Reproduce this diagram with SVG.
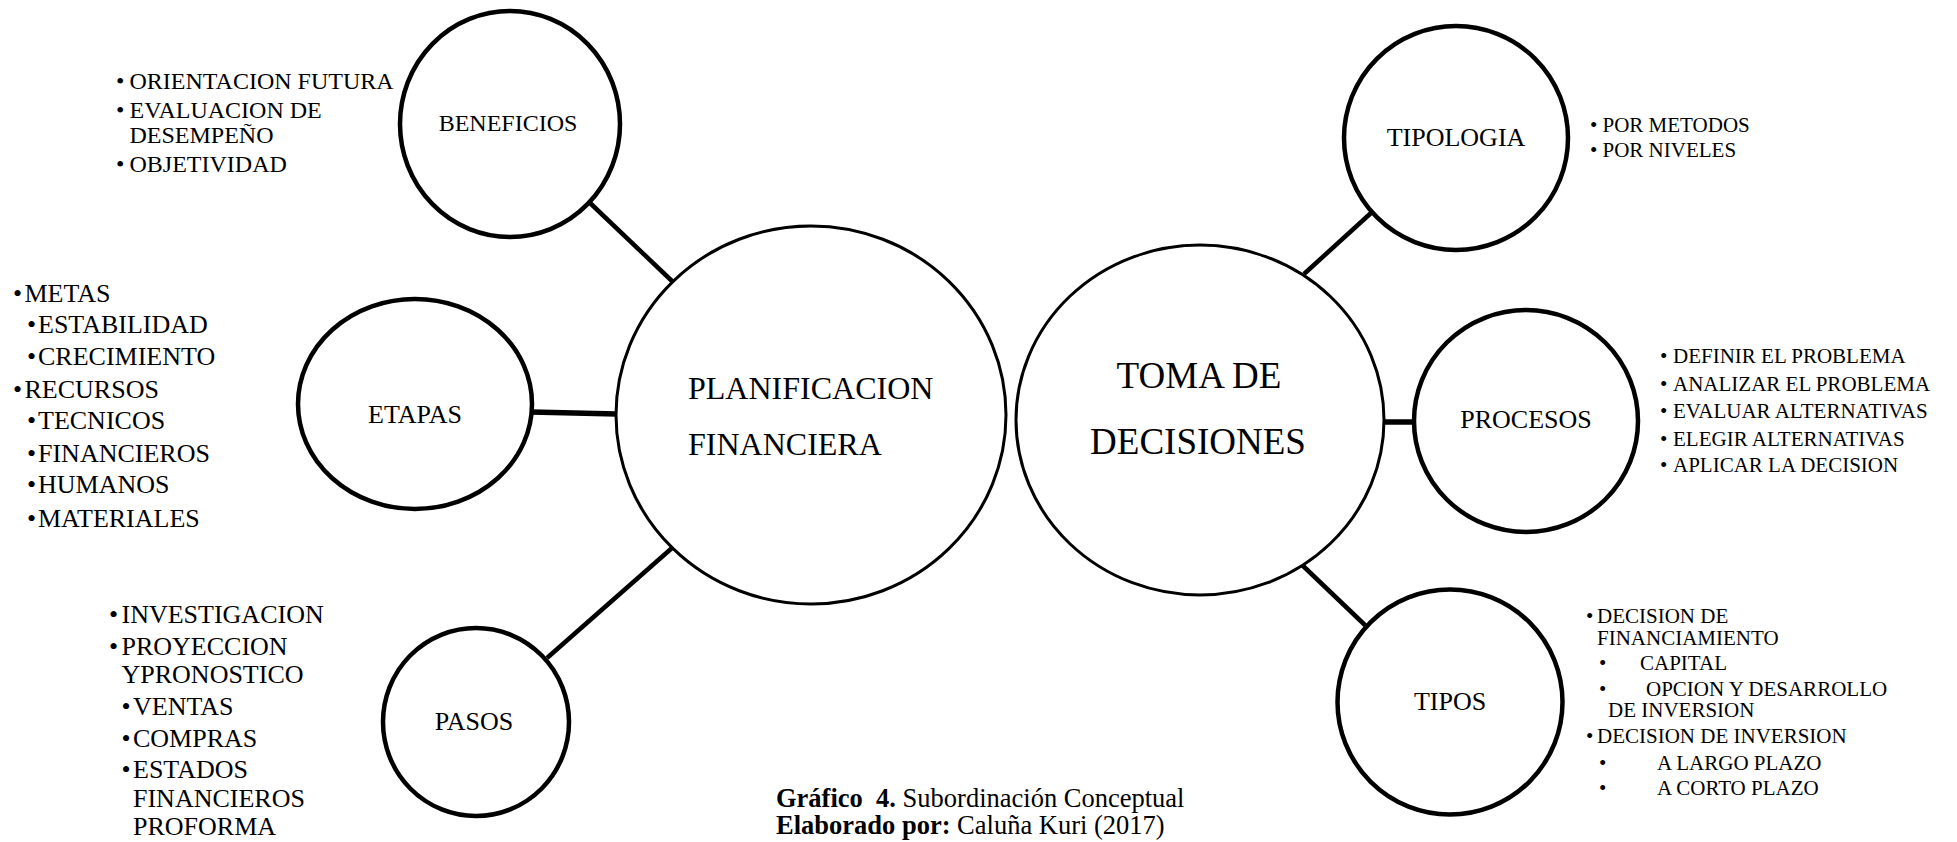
<svg xmlns="http://www.w3.org/2000/svg" width="1957" height="842" viewBox="0 0 1957 842">
<style>
text{font-family:"Liberation Serif","Times New Roman",serif;fill:#000}
.node{fill:#fff;stroke:#000;stroke-width:4.5}
.big{fill:#fff;stroke:#000;stroke-width:3}
.conn{stroke:#000;stroke-width:4.5;fill:none}
.lbl{font-size:26px;text-anchor:middle}
.l24{font-size:24px}
.l26{font-size:26px}
.l21{font-size:21px}
.cap{font-size:26.5px}
</style>
<rect width="1957" height="842" fill="#fff"/>
<g id="connectors">
<line class="conn" x1="589" y1="202" x2="673" y2="282"/>
<line class="conn" x1="531" y1="412" x2="617" y2="414" style="stroke-width:5.5"/>
<line class="conn" x1="672" y1="548" x2="547" y2="658"/>
<line class="conn" x1="1371" y1="213" x2="1304" y2="274"/>
<line class="conn" x1="1383" y1="422" x2="1415" y2="422" style="stroke-width:5.5"/>
<line class="conn" x1="1300" y1="563" x2="1367" y2="627"/>
</g>
<g id="planificacion">
<ellipse class="big" cx="811" cy="415" rx="195" ry="189"/>
<text style="font-size:32px"><tspan x="688" y="399">PLANIFICACION</tspan><tspan x="688" y="455">FINANCIERA</tspan></text>
</g>
<g id="toma">
<ellipse class="big" cx="1200" cy="420" rx="184" ry="175"/>
<text style="font-size:37px;text-anchor:middle"><tspan x="1199" y="388">TOMA DE</tspan><tspan x="1198" y="454">DECISIONES</tspan></text>
</g>
<g id="beneficios">
<ellipse class="node" cx="510" cy="124" rx="110" ry="113"/>
<text class="lbl" style="font-size:24px" x="508" y="131">BENEFICIOS</text>
<text class="l24"><tspan x="116" y="89">•</tspan><tspan x="129.5" y="89">ORIENTACION FUTURA</tspan><tspan x="116" y="118">•</tspan><tspan x="129.5" y="118">EVALUACION DE</tspan><tspan x="129.5" y="143">DESEMPEÑO</tspan><tspan x="116" y="172">•</tspan><tspan x="129.5" y="172">OBJETIVIDAD</tspan></text>
</g>
<g id="etapas">
<ellipse class="node" cx="415" cy="404" rx="117" ry="105"/>
<text class="lbl" x="415" y="423">ETAPAS</text>
<text class="l26"><tspan x="13" y="302">•</tspan><tspan x="24.5" y="302">METAS</tspan><tspan x="27" y="333">•</tspan><tspan x="38" y="333">ESTABILIDAD</tspan><tspan x="27" y="365">•</tspan><tspan x="38" y="365">CRECIMIENTO</tspan><tspan x="13" y="398">•</tspan><tspan x="24.5" y="398">RECURSOS</tspan><tspan x="27" y="429">•</tspan><tspan x="38" y="429">TECNICOS</tspan><tspan x="27" y="462">•</tspan><tspan x="38" y="462">FINANCIEROS</tspan><tspan x="27" y="493">•</tspan><tspan x="38" y="493">HUMANOS</tspan><tspan x="27" y="527">•</tspan><tspan x="38" y="527">MATERIALES</tspan></text>
</g>
<g id="pasos">
<ellipse class="node" cx="476" cy="722" rx="93" ry="94"/>
<text class="lbl" x="474" y="730">PASOS</text>
<text class="l26"><tspan x="109" y="623">•</tspan><tspan x="121.5" y="623">INVESTIGACION</tspan><tspan x="109" y="655">•</tspan><tspan x="121.5" y="655">PROYECCION</tspan><tspan x="121.5" y="683">YPRONOSTICO</tspan><tspan x="121.5" y="715">•</tspan><tspan x="133" y="715">VENTAS</tspan><tspan x="121.5" y="747">•</tspan><tspan x="133" y="747">COMPRAS</tspan><tspan x="121.5" y="778">•</tspan><tspan x="133" y="778">ESTADOS</tspan><tspan x="133" y="807">FINANCIEROS</tspan><tspan x="133" y="835">PROFORMA</tspan></text>
</g>
<g id="tipologia">
<ellipse class="node" cx="1456" cy="138" rx="112" ry="112"/>
<text class="lbl" x="1456" y="146">TIPOLOGIA</text>
<text class="l21"><tspan x="1590" y="132">•</tspan><tspan x="1602.5" y="132">POR METODOS</tspan><tspan x="1590" y="157">•</tspan><tspan x="1602.5" y="157">POR NIVELES</tspan></text>
</g>
<g id="procesos">
<ellipse class="node" cx="1526" cy="421" rx="112" ry="111"/>
<text class="lbl" x="1526" y="428">PROCESOS</text>
<text class="l21"><tspan x="1660" y="363">•</tspan><tspan x="1673" y="363">DEFINIR EL PROBLEMA</tspan><tspan x="1660" y="391">•</tspan><tspan x="1673" y="391">ANALIZAR EL PROBLEMA</tspan><tspan x="1660" y="418">•</tspan><tspan x="1673" y="418">EVALUAR ALTERNATIVAS</tspan><tspan x="1660" y="446">•</tspan><tspan x="1673" y="446">ELEGIR ALTERNATIVAS</tspan><tspan x="1660" y="472">•</tspan><tspan x="1673" y="472">APLICAR LA DECISION</tspan></text>
</g>
<g id="tipos">
<ellipse class="node" cx="1450" cy="702" rx="112.5" ry="112.5"/>
<text class="lbl" x="1450" y="710">TIPOS</text>
<text class="l21"><tspan x="1586" y="623">•</tspan><tspan x="1597" y="623">DECISION DE</tspan><tspan x="1597" y="645">FINANCIAMIENTO</tspan><tspan x="1599" y="670">•</tspan><tspan x="1640" y="670">CAPITAL</tspan><tspan x="1599" y="696">•</tspan><tspan x="1646" y="696">OPCION Y DESARROLLO</tspan><tspan x="1608" y="717">DE INVERSION</tspan><tspan x="1586" y="743">•</tspan><tspan x="1597" y="743">DECISION DE INVERSION</tspan><tspan x="1599" y="770">•</tspan><tspan x="1657" y="770">A LARGO PLAZO</tspan><tspan x="1599" y="795">•</tspan><tspan x="1657" y="795">A CORTO PLAZO</tspan></text>
</g>
<g id="caption">
<text class="cap" x="776" y="807" xml:space="preserve"><tspan font-weight="bold">Gráfico  4.</tspan> Subordinación Conceptual</text>
<text class="cap" x="776" y="834" xml:space="preserve"><tspan font-weight="bold">Elaborado por:</tspan> Caluña Kuri (2017)</text>
</g>
</svg>
